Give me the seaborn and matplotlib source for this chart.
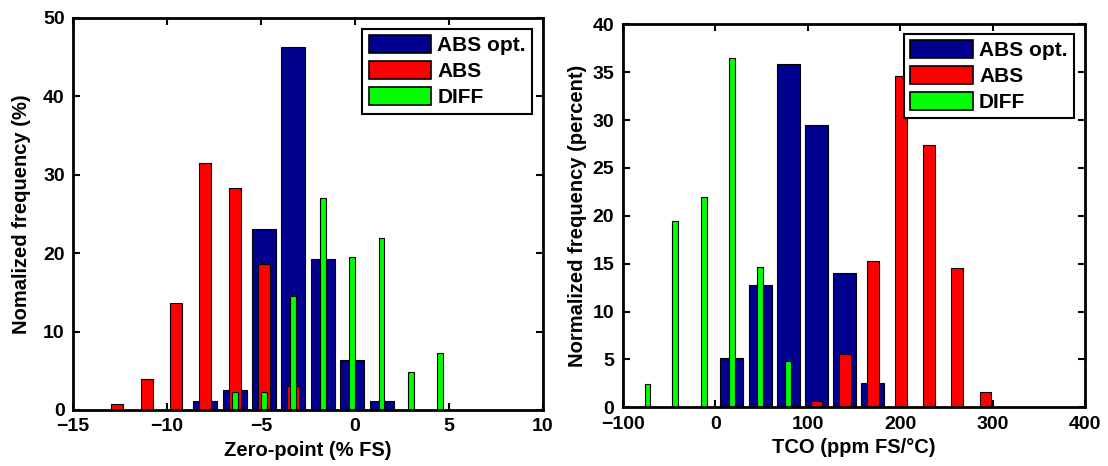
import matplotlib
matplotlib.use("Agg")
import matplotlib.pyplot as plt
import pandas as pd
import seaborn as sns
from matplotlib.patches import Patch

# zero-point histogram (left)
zp_abs_opt_x = [-7.96, -6.40, -4.84, -3.28, -1.71, -0.15, 1.41]
zp_abs_opt_y = [1.2, 2.5, 23.1, 46.3, 19.3, 6.4, 1.2]
zp_abs_x = [-12.65, -11.09, -9.53, -7.96, -6.40, -4.84, -3.28]
zp_abs_y = [0.7, 4.0, 13.7, 31.5, 28.3, 18.6, 3.1]
zp_diff_x = [-6.40, -4.84, -3.28, -1.71, -0.15, 1.41, 2.97, 4.53]
zp_diff_y = [2.3, 2.3, 14.6, 27.0, 19.5, 22.0, 4.8, 7.3]

# TCO histogram (right)
tco_abs_opt_x = [18.1, 48.7, 79.0, 109.6, 140.3, 170.5]
tco_abs_opt_y = [5.1, 12.8, 35.9, 29.5, 14.0, 2.5]
tco_abs_x = [109.6, 140.3, 170.5, 200.8, 231.5, 261.7, 292.4]
tco_abs_y = [0.7, 5.6, 15.3, 34.6, 27.4, 14.5, 1.6]
tco_diff_x = [-73.1, -43.2, -12.2, 18.1, 48.7, 79.0]
tco_diff_y = [2.4, 19.5, 22.0, 36.5, 14.6, 4.8]

labels = ["ABS opt.", "ABS", "DIFF"]
colors = [(0, 0, 0.5625), (1, 0, 0), (0, 1, 0)]
widths = [0.82, 0.41, 0.2]

sns.set_style("ticks")
plt.rcParams["font.family"] = ["Liberation Sans", "DejaVu Sans"]
plt.rcParams["font.weight"] = "bold"
plt.rcParams["axes.labelweight"] = "bold"
plt.rcParams["xtick.direction"] = "in"
plt.rcParams["ytick.direction"] = "in"
for key in ["text.color", "axes.labelcolor", "axes.edgecolor", "xtick.color", "ytick.color"]:
    plt.rcParams[key] = "black"

fig = plt.figure(figsize=(11.08, 4.66), dpi=100)
ax1 = fig.add_axes([0.0659, 0.1202, 0.4242, 0.8412])
ax2 = fig.add_axes([0.562, 0.126, 0.4172, 0.8219])


def draw(ax, series):
    for (xs, ys), c, w in zip(series, colors, widths):
        df = pd.DataFrame({"x": xs, "y": ys})
        sns.barplot(data=df, x="x", y="y", native_scale=True, width=w,
                    color=c, saturation=1, edgecolor="black", linewidth=0.8,
                    errorbar=None, ax=ax)


draw(ax1, [(zp_abs_opt_x, zp_abs_opt_y), (zp_abs_x, zp_abs_y), (zp_diff_x, zp_diff_y)])
draw(ax2, [(tco_abs_opt_x, tco_abs_opt_y), (tco_abs_x, tco_abs_y), (tco_diff_x, tco_diff_y)])

ax1.set_xlim(-15, 10)
ax1.set_ylim(0, 50)
ax1.set_xticks([-15, -10, -5, 0, 5, 10])
ax1.set_yticks([0, 10, 20, 30, 40, 50])
ax1.set_xlabel("Zero-point (% FS)", fontsize=14.5)
ax1.set_ylabel("Nomalized frequency (%)", fontsize=14.5, labelpad=9)

ax2.set_xlim(-100, 400)
ax2.set_ylim(0, 40)
ax2.set_xticks([-100, 0, 100, 200, 300, 400])
ax2.set_yticks(list(range(0, 45, 5)))
ax2.set_xlabel("TCO (ppm FS/°C)", fontsize=14.5)
ax2.set_ylabel("Normalized frequency (percent)", fontsize=14.5)

handles = [Patch(facecolor=c, edgecolor="black", linewidth=1.2) for c in colors]
for ax, anchor in [(ax1, (0.977, 0.972)), (ax2, (0.976, 0.975))]:
    for s in ax.spines.values():
        s.set_visible(True)
        s.set_linewidth(2)
        s.set_edgecolor("black")
    ax.tick_params(axis="both", which="both", top=True, right=True, length=5,
                   width=1.5, labelsize=14, pad=6, colors="black")
    for lab in ax.get_xticklabels() + ax.get_yticklabels():
        lab.set_fontweight("bold")
    leg = ax.legend(handles, labels, loc="upper right", bbox_to_anchor=anchor,
                    borderaxespad=0, fancybox=False, framealpha=1, fontsize=15,
                    handlelength=3.0, handleheight=0.95, handletextpad=0.3,
                    labelspacing=0.28, borderpad=0.3)
    leg.get_frame().set_edgecolor("black")
    leg.get_frame().set_linewidth(1.5)

fig.savefig("out.png", dpi=100)
plt.close(fig)
